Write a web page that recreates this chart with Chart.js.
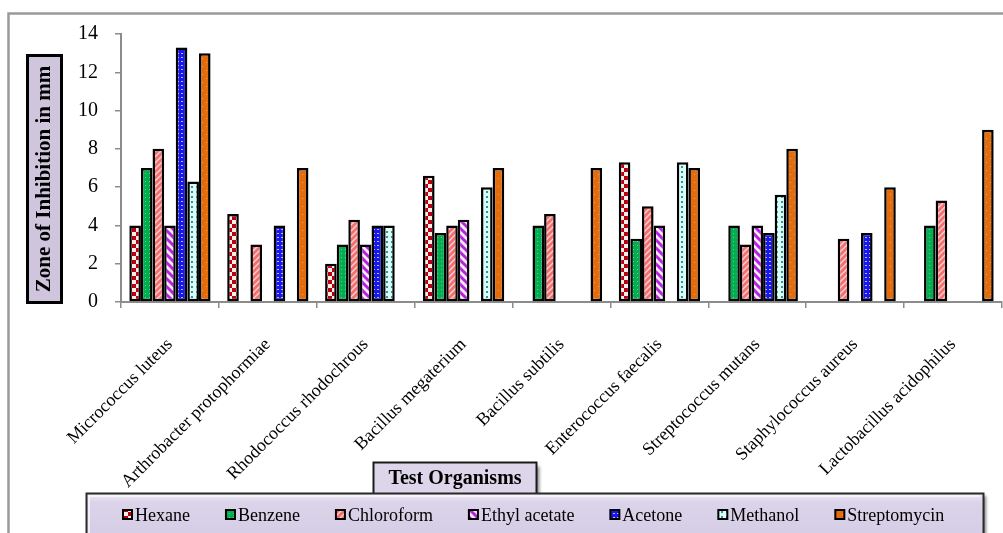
<!DOCTYPE html>
<html>
<head>
<meta charset="utf-8">
<script src="https://cdn.jsdelivr.net/npm/chart.js@4.4.1/dist/chart.umd.min.js"></script>
<style>
  html, body { margin: 0; padding: 0; background: #ffffff; }
  #wrap { width: 1003px; height: 533px; }
</style>
</head>
<body>
<div id="wrap"><canvas id="chart" width="1003" height="533"></canvas></div>
<script>
// Test organisms (x categories)
const organisms = [
  'Micrococcus luteus',
  'Arthrobacter protophormiae',
  'Rhodococcus rhodochrous',
  'Bacillus megaterium',
  'Bacillus subtilis',
  'Enterococcus faecalis',
  'Streptococcus mutans',
  'Staphylococcus aureus',
  'Lactobacillus acidophilus'
];

// Zone of inhibition (mm) per extract; null = no zone
const hexane       = [4,    4.6,  2,   6.6,  null, 7.3,  null, null, null];
const benzene      = [7,    null, 3,   3.6,  4,    3.3,  4,    null, 4];
const chloroform   = [8,    3,    4.3, 4,    4.6,  5,    3,    3.3,  5.3];
const ethylAcetate = [4,    null, 3,   4.3,  null, 4,    4,    null, null];
const acetone      = [13.3, 4,    4,   null, null, null, 3.6,  3.6,  null];
const methanol     = [6.3,  null, 4,   6,    null, 7.3,  5.6,  null, null];
const streptomycin = [13,   7,    null, 7,   7,    7,    8,    6,    9];

const seriesNames = ['Hexane', 'Benzene', 'Chloroform', 'Ethyl acetate', 'Acetone', 'Methanol', 'Streptomycin'];
const yTickValues = [0, 2, 4, 6, 8, 10, 12, 14];

const SERIF = '"Liberation Serif", "Times New Roman", serif';

// ---- fill patterns ----
function tile(size, draw) {
  const c = document.createElement('canvas');
  c.width = size; c.height = size;
  const g = c.getContext('2d');
  draw(g, size);
  return g.createPattern(c, 'repeat');
}
function stripes(g, s, color, w, dir) {
  g.strokeStyle = color; g.lineWidth = w; g.lineCap = 'square';
  for (let k = -s; k <= s; k += s) {
    g.beginPath();
    if (dir === '/') { g.moveTo(k, s); g.lineTo(k + s, 0); }
    else { g.moveTo(k, 0); g.lineTo(k + s, s); }
    g.stroke();
  }
}
const patterns = [
  // Hexane: dark red checkerboard
  tile(8, (g) => {
    g.fillStyle = '#FFEDE8'; g.fillRect(0, 0, 8, 8);
    g.fillStyle = '#B80010'; g.fillRect(0, 0, 4, 4); g.fillRect(4, 4, 4, 4);
  }),
  // Benzene: green with fine light dots
  tile(4, (g) => {
    g.fillStyle = '#00B050'; g.fillRect(0, 0, 4, 4);
    g.fillStyle = '#5FD38F'; g.fillRect(1, 1, 1, 1);
  }),
  // Chloroform: salmon with light upward diagonals
  tile(6, (g, s) => {
    g.fillStyle = '#F46F6F'; g.fillRect(0, 0, s, s);
    stripes(g, s, '#FFD2CF', 1.4, '/');
  }),
  // Ethyl acetate: wide purple downward diagonals on white
  tile(8, (g, s) => {
    g.fillStyle = '#FCEBFF'; g.fillRect(0, 0, s, s);
    stripes(g, s, '#B622DD', 3, '\\');
  }),
  // Acetone: blue with white dots
  tile(4, (g) => {
    g.fillStyle = '#1818E8'; g.fillRect(0, 0, 4, 4);
    g.fillStyle = '#B8B8FF'; g.fillRect(1, 1, 2, 1);
  }),
  // Methanol: pale cyan with teal dots
  tile(5, (g) => {
    g.fillStyle = '#D6FFFA'; g.fillRect(0, 0, 5, 5);
    g.fillStyle = '#3E9090'; g.fillRect(1, 1, 2, 2);
  }),
  // Streptomycin: orange with faint dots
  tile(8, (g) => {
    g.fillStyle = '#E46C0A'; g.fillRect(0, 0, 8, 8);
    g.fillStyle = '#F2A060'; g.fillRect(2, 2, 1, 1); g.fillRect(6, 6, 1, 1);
  })
];

const seriesValues = [hexane, benzene, chloroform, ethylAcetate, acetone, methanol, streptomycin];

const datasets = seriesNames.map((name, i) => ({
  label: name,
  data: seriesValues[i],
  backgroundColor: patterns[i],
  borderColor: '#000000',
  borderWidth: 2.5,
  borderSkipped: false,
  categoryPercentage: 0.83,
  barPercentage: 1.0
}));

// ---- decorations: frame, axis title boxes, legend box ----
function box(ctx, x, y, w, h, fill, stroke, lw, shadow) {
  ctx.save();
  if (shadow) {
    ctx.shadowColor = 'rgba(0,0,0,0.45)';
    ctx.shadowOffsetX = 3; ctx.shadowOffsetY = 3; ctx.shadowBlur = 3;
  }
  ctx.fillStyle = fill;
  ctx.fillRect(x, y, w, h);
  ctx.restore();
  ctx.save();
  ctx.strokeStyle = stroke; ctx.lineWidth = lw;
  ctx.strokeRect(x, y, w, h);
  ctx.restore();
}

const decorations = {
  id: 'decorations',
  beforeDraw(chart) {
    const ctx = chart.ctx;
    ctx.save();
    ctx.fillStyle = '#ffffff';
    ctx.fillRect(0, 0, chart.width, chart.height);
    // outer frame
    ctx.strokeStyle = '#9a9a9a';
    ctx.lineWidth = 2.5;
    ctx.strokeRect(8.5, 13.5, 1100, 600);
    ctx.restore();
  },
  afterDraw(chart) {
    const ctx = chart.ctx;

    // y-axis title box
    box(ctx, 27.5, 55.5, 34, 247, '#CFC5DD', '#000000', 3, false);
    ctx.save();
    ctx.translate(45, 179);
    ctx.rotate(-Math.PI / 2);
    ctx.fillStyle = '#000';
    ctx.font = 'bold 21px ' + SERIF;
    ctx.textAlign = 'center';
    ctx.textBaseline = 'middle';
    ctx.fillText('Zone of Inhibition in mm', 0, 0);
    ctx.restore();

    // x-axis title box
    box(ctx, 373.5, 462.5, 163, 32, '#DDD6EA', '#1a1a1a', 2, true);
    ctx.save();
    ctx.fillStyle = '#000';
    ctx.font = 'bold 20px ' + SERIF;
    ctx.textAlign = 'center';
    ctx.textBaseline = 'middle';
    ctx.fillText('Test Organisms', 455, 479);
    ctx.restore();

    // legend box
    const lx = 86, ly = 493, lw = 897, lh = 60;
    ctx.save();
    ctx.shadowColor = 'rgba(0,0,0,0.5)';
    ctx.shadowOffsetX = 3; ctx.shadowOffsetY = 3; ctx.shadowBlur = 3;
    const grad = ctx.createLinearGradient(0, ly, 0, ly + 40);
    grad.addColorStop(0, '#EEEAF5');
    grad.addColorStop(0.25, '#DAD3E9');
    grad.addColorStop(1, '#D6CEE6');
    ctx.fillStyle = grad;
    ctx.fillRect(lx, ly, lw, lh);
    ctx.restore();
    ctx.save();
    ctx.strokeStyle = '#2a2a2a'; ctx.lineWidth = 2;
    ctx.strokeRect(lx + 0.5, ly + 0.5, lw, lh);
    ctx.strokeStyle = 'rgba(255,255,255,0.85)'; ctx.lineWidth = 1.5;
    ctx.beginPath();
    ctx.moveTo(lx + 3, ly + lh); ctx.lineTo(lx + 3, ly + 3); ctx.lineTo(lx + lw - 3, ly + 3);
    ctx.stroke();
    ctx.restore();

    // legend entries
    ctx.save();
    ctx.font = '18px ' + SERIF;
    ctx.textBaseline = 'middle';
    ctx.textAlign = 'left';
    let x = 122;
    const cy = 515;
    chart.data.datasets.forEach((ds) => {
      ctx.fillStyle = ds.backgroundColor;
      ctx.fillRect(x + 1, cy - 5, 9, 9);
      ctx.strokeStyle = '#000'; ctx.lineWidth = 2;
      ctx.strokeRect(x + 1, cy - 5, 9, 9);
      ctx.fillStyle = '#000';
      ctx.fillText(ds.label, x + 13, cy + 1);
      x += 13 + ctx.measureText(ds.label).width + 35;
    });
    ctx.restore();
  }
};

new Chart(document.getElementById('chart'), {
  type: 'bar',
  data: { labels: organisms, datasets },
  plugins: [decorations],
  options: {
    responsive: false,
    devicePixelRatio: 1,
    animation: false,
    layout: { padding: { top: 34, left: 0, right: 1, bottom: 0 } },
    plugins: { legend: { display: false }, tooltip: { enabled: false } },
    scales: {
      x: {
        afterFit(scale) {
          scale.height = 231;
          scale.paddingLeft = 0;
          scale.paddingRight = 0;
        },
        grid: { offset: true, drawOnChartArea: false, drawTicks: true, tickLength: 6, color: '#8c8c8c', lineWidth: 1.5 },
        border: { color: '#8c8c8c', width: 2 },
        ticks: {
          autoSkip: false,
          minRotation: 45,
          maxRotation: 45,
          padding: 26,
          color: '#000',
          font: { family: SERIF, size: 18 }
        }
      },
      y: {
        min: 0,
        max: 14,
        afterFit(scale) { scale.width = 121; },
        afterBuildTicks(scale) { scale.ticks = yTickValues.map(v => ({ value: v })); },
        grid: { drawOnChartArea: false, drawTicks: true, tickLength: 6, color: '#8c8c8c', lineWidth: 1.5 },
        border: { color: '#8c8c8c', width: 2 },
        ticks: {
          padding: 17,
          color: '#000',
          font: { family: SERIF, size: 20 }
        }
      }
    }
  }
});
</script>
</body>
</html>
